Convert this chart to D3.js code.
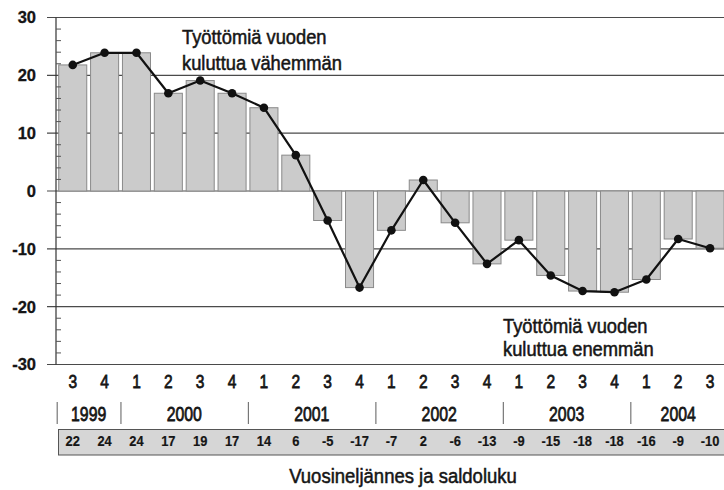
<!DOCTYPE html>
<html>
<head>
<meta charset="utf-8">
<script src="https://cdn.jsdelivr.net/npm/d3@7"></script>
<style>
  html, body { margin: 0; padding: 0; background: #fff; }
  svg { display: block; }
</style>
</head>
<body>
<svg id="chart" width="724" height="490"></svg>
<script>
// ---- data ----
const quarterLabels = ["3","4","1","2","3","4","1","2","3","4","1","2","3","4","1","2","3","4","1","2","3"];
const quarterYears  = ["1999","1999","2000","2000","2000","2000","2001","2001","2001","2001","2002","2002","2002","2002","2003","2003","2003","2003","2004","2004","2004"];
const values = [21.8, 23.9, 23.9, 16.9, 19.1, 16.9, 14.4, 6.2, -5.1, -16.7, -6.8, 1.9, -5.5, -12.6, -8.5, -14.6, -17.3, -17.5, -15.3, -8.3, -9.9];
const tableLabels = ["22","24","24","17","19","17","14","6","-5","-17","-7","2","-6","-13","-9","-15","-18","-18","-16","-9","-10"];
const yTicks = [-30, -20, -10, 0, 10, 20, 30];
const annotationTop = ["Työttömiä vuoden", "kuluttua vähemmän"];
const annotationBottom = ["Työttömiä vuoden", "kuluttua enemmän"];
const axisTitle = "Vuosineljännes ja saldoluku";

// ---- setup ----
const svg = d3.select("#chart");
const regular = "'Liberation Sans', Arial, sans-serif";
const ink = "#151515";

const idx = d3.range(values.length);
const x = d3.scaleBand().domain(idx).range([56.8, 726]).paddingInner(0.12).paddingOuter(0.06);
const y = d3.scaleLinear().domain([-30, 30]).range([364.5, 17.5]);
const axisX = 56;
const cx = i => x(i) + x.bandwidth() / 2;

// condensed text helper: horizontal squeeze via transform
function condensed(sel, px, py, size, sx, weight, sw) {
  sel.attr("transform", (d, i) => `translate(${px(d, i)},${py}) scale(${sx},1)`)
    .attr("text-anchor", "middle")
    .attr("font-family", regular).attr("font-size", size)
    .attr("font-weight", weight || "normal")
    .attr("fill", ink).attr("stroke", ink).attr("stroke-width", sw == null ? 0.6 : sw);
}

// gridlines (behind bars)
svg.append("g").selectAll("line").data(yTicks).join("line")
  .attr("x1", 47).attr("x2", 724)
  .attr("y1", d => y(d)).attr("y2", d => y(d))
  .attr("stroke", "#4a4a4a").attr("stroke-width", 1.1);

// y tick labels
svg.append("g").selectAll("text").data(yTicks).join("text")
  .attr("x", 36).attr("y", d => y(d)).attr("dy", "0.36em")
  .attr("text-anchor", "end")
  .attr("font-family", regular).attr("font-weight", "bold").attr("font-size", 16.5)
  .attr("fill", ink).attr("stroke", ink).attr("stroke-width", 0.3)
  .text(d => d);

// bars
svg.append("g").selectAll("rect").data(idx).join("rect")
  .attr("x", i => x(i))
  .attr("width", x.bandwidth())
  .attr("y", i => y(Math.max(0, values[i])))
  .attr("height", i => Math.abs(y(values[i]) - y(0)))
  .attr("fill", "#cbcbcb")
  .attr("stroke", "#8a8a8a").attr("stroke-width", 1);

// axis line + minor ticks
svg.append("line").attr("x1", axisX).attr("x2", axisX).attr("y1", y(30)).attr("y2", y(-30))
  .attr("stroke", "#333").attr("stroke-width", 1.2);
const minor = d3.range(-30, 31, 2).filter(v => v % 10 !== 0);
svg.append("g").selectAll("line").data(minor).join("line")
  .attr("x1", axisX).attr("x2", axisX + 5)
  .attr("y1", d => y(d)).attr("y2", d => y(d))
  .attr("stroke", "#555").attr("stroke-width", 1);

// line + markers
const line = d3.line().x((d, i) => cx(i)).y(d => y(d));
svg.append("path").datum(values)
  .attr("d", line).attr("fill", "none")
  .attr("stroke", "#111").attr("stroke-width", 2.2).attr("stroke-linejoin", "round");
svg.append("g").selectAll("circle").data(values).join("circle")
  .attr("cx", (d, i) => cx(i)).attr("cy", d => y(d)).attr("r", 4.3)
  .attr("fill", "#111");

// annotations
function annotation(lines, x0, ys) {
  const t = svg.append("text").attr("font-family", regular).attr("font-size", 19.5)
    .attr("fill", ink).attr("stroke", ink).attr("stroke-width", 0.5)
    .attr("transform", `translate(${x0},0) scale(0.94,1)`);
  lines.forEach((s, k) => t.append("tspan").attr("x", 0).attr("y", ys[k]).text(s));
}
annotation(annotationTop, 182, [44, 70.5]);
annotation(annotationBottom, 503, [333, 356.5]);

// quarter labels
condensed(svg.append("g").selectAll("text").data(quarterLabels).join("text").text(d => d),
  (d, i) => cx(i), 388, 19, 0.82, "normal", 0.75);

// year groups
const yearGroups = d3.groups(idx, i => quarterYears[i]);
svg.append("g").selectAll("line").data(yearGroups).join("line")
  .attr("x1", d => x(d[1][0]) - 1.5).attr("x2", d => x(d[1][0]) - 1.5)
  .attr("y1", 402).attr("y2", 424)
  .attr("stroke", "#777").attr("stroke-width", 1.2);
condensed(svg.append("g").selectAll("text").data(yearGroups).join("text").text(d => d[0]),
  d => (cx(d[1][0]) + cx(d[1][d[1].length - 1])) / 2, 421, 19.8, 0.8, "normal", 0.75);

// value table
svg.append("rect").attr("x", 58.5).attr("y", 429.5).attr("width", 680).attr("height", 25.5)
  .attr("fill", "#d6d6d6").attr("stroke", "#555").attr("stroke-width", 1);
condensed(svg.append("g").selectAll("text").data(tableLabels).join("text").text(d => d),
  (d, i) => cx(i), 446, 15, 0.86, "bold", 0.2);

// axis title
svg.append("text")
  .attr("transform", "translate(403,483) scale(0.95,1)")
  .attr("text-anchor", "middle")
  .attr("font-family", regular).attr("font-size", 19.5)
  .attr("fill", ink).attr("stroke", ink).attr("stroke-width", 0.5)
  .text(axisTitle);
</script>
</body>
</html>
